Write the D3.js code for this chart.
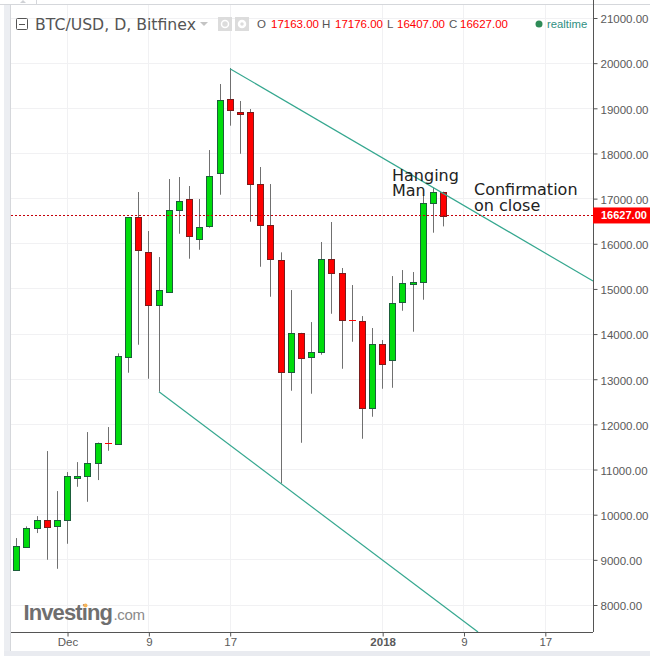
<!DOCTYPE html>
<html><head><meta charset="utf-8">
<script src="https://cdn.jsdelivr.net/npm/d3@7"></script>
<style>html,body{margin:0;padding:0;background:#fff;overflow:hidden}svg{display:block}</style>
</head><body><svg id="c" width="650" height="656"></svg>
<script>
const days=["Nov 26","Nov 27","Nov 28","Nov 29","Nov 30","Dec 1","Dec 2","Dec 3","Dec 4","Dec 5","Dec 6","Dec 7","Dec 8","Dec 9","Dec 10","Dec 11","Dec 12","Dec 13","Dec 14","Dec 15","Dec 16","Dec 17","Dec 18","Dec 19","Dec 20","Dec 21","Dec 22","Dec 23","Dec 24","Dec 25","Dec 26","Dec 27","Dec 28","Dec 29","Dec 30","Dec 31","Jan 1","Jan 2","Jan 3","Jan 4","Jan 5","Jan 6","Jan 7"];
const opens =[8789,9298,9719,9896,9763,9896,10840,10871,11159,11602,11571,13507,16608,15832,14658,14946,16763,17006,16120,16408,17573,19221,18945,18933,17339,16430,15655,13174,14038,13506,13617,15677,15367,14320,14304,12377,13795,13440,14725,15135,15168,16918,17163];
const highs =[9504,9763,9991,11431,10545,10966,11187,11852,11620,11963,13595,16608,17168,16304,15728,17456,17500,17301,17013,18098,19560,19915,19184,19006,17722,17345,15832,14997,14050,14288,16061,16504,15485,15108,14421,14156,13890,15307,15440,15396,17100,17263,17176];
const lows  =[8789,9298,9615,9024,8824,9378,10640,10308,10789,11438,11571,13166,13786,13033,12745,14946,16244,15691,15890,16377,17108,18637,18016,16510,15513,14849,10716,12767,11615,12701,13565,14472,13254,13852,11704,12191,12811,12833,14539,14074,14783,16267,16407];
const closes=[9320,9719,9896,9741,9896,10871,10885,11159,11602,11602,13529,16608,15868,14658,14991,16763,16962,16187,16386,17516,19199,18969,18895,17339,16430,15677,13174,14038,13484,13617,15677,15367,14326,14320,12377,13795,13352,14703,15146,15175,16918,17161,16627];
const priceTicks=[8000,9000,10000,11000,12000,13000,14000,15000,16000,17000,18000,19000,20000,21000];
const dateTicks=[5,13,21,36,44,52];
const dateLabels=["Dec","9","17","2018","9","17"];
const upperTrend=[{i:20.98,p:19900},{i:56.69,p:15197}];
const lowerTrend=[{i:14,p:12745},{i:45.38,p:7422}];
const lastClose=16627;

const L=11,R=593,B=632,T=5;
const svg=d3.select("#c");
const x=d3.scaleLinear().domain([-0.56,56.69]).range([L,R]);
const y=d3.scaleLinear().domain([21000,8000]).range([18,605]);
const snap=v=>Math.floor(v)+0.5;
const font="'Liberation Sans',Arial,sans-serif";

// frame
svg.append("rect").attr("x",4).attr("y",4).attr("width",7).attr("height",652).attr("fill","#eceef2");
svg.append("rect").attr("x",0).attr("y",4).attr("width",650).attr("height",1).attr("fill","#d5d7db");
svg.append("rect").attr("x",4).attr("y",651).attr("width",646).attr("height",5).attr("fill","#e9ebf0");
svg.append("rect").attr("x",10).attr("y",4).attr("width",1).attr("height",647).attr("fill","#d5d7db");
svg.append("path").attr("d",d3.line()([[20,3],[26,3],[23,0]])+"Z").attr("fill","#d0d2d6");
svg.append("line").attr("x1",36.5).attr("x2",36.5).attr("y1",0).attr("y2",4).attr("stroke","#d5d7db");

// grid
const grid=svg.append("g").attr("stroke","#f1f1f3").attr("stroke-width",1);
grid.selectAll("line.h").data(priceTicks).join("line").attr("class","h")
 .attr("x1",L).attr("x2",R).attr("y1",d=>snap(y(d))).attr("y2",d=>snap(y(d)));
grid.selectAll("line.v").data(dateTicks).join("line").attr("class","v")
 .attr("y1",T).attr("y2",B).attr("x1",d=>snap(x(d))).attr("x2",d=>snap(x(d)));

// logo
const logo=svg.append("g").attr("font-family",font);
logo.append("text").attr("x",23.5).attr("y",620).attr("font-size",22).attr("font-weight",700).attr("fill","#6f6f6f").attr("letter-spacing",-0.9).text("Investing");
logo.append("text").attr("x",113.5).attr("y",620).attr("font-size",15).attr("fill","#8a8a8a").attr("letter-spacing",-0.3).text(".com");
logo.append("circle").attr("cx",85.5).attr("cy",605.5).attr("r",2).attr("fill","#f5b55a");

// candles and trend lines sit one pixel below the grid rows
const marks=svg.append("g").attr("transform","translate(0,1)");
const idx=d3.range(days.length);
const c=marks.append("g");
c.selectAll("line.w").data(idx).join("line").attr("class","w")
 .attr("x1",i=>snap(x(i))).attr("x2",i=>snap(x(i)))
 .attr("y1",i=>y(highs[i])).attr("y2",i=>y(lows[i]))
 .attr("stroke","#707070").attr("stroke-width",1);
c.selectAll("rect").data(idx.filter(i=>opens[i]!==closes[i])).join("rect")
 .attr("x",i=>snap(x(i))-3).attr("width",6)
 .attr("y",i=>Math.round(y(Math.max(opens[i],closes[i])))+0.5)
 .attr("height",i=>Math.max(1,Math.round(Math.abs(y(opens[i])-y(closes[i])))))
 .attr("fill",i=>closes[i]>opens[i]?"#00dc0c":"#ff0000")
 .attr("stroke",i=>closes[i]>opens[i]?"#1b5e3a":"#7a1c1c").attr("stroke-width",1);
c.selectAll("line.d").data(idx.filter(i=>opens[i]===closes[i])).join("line").attr("class","d")
 .attr("x1",i=>snap(x(i))-3.5).attr("x2",i=>snap(x(i))+3.5)
 .attr("y1",i=>snap(y(closes[i]))).attr("y2",i=>snap(y(closes[i])))
 .attr("stroke","#ff0000").attr("stroke-width",1);

// trend lines
const tl=d3.line().x(d=>x(d.i)).y(d=>y(d.p));
[upperTrend,lowerTrend].forEach(t=>marks.append("path").attr("d",tl(t)).attr("fill","none").attr("stroke","#35a78f").attr("stroke-width",1.2));

// last price line
svg.append("line").attr("x1",L).attr("x2",R).attr("y1",snap(y(lastClose))).attr("y2",snap(y(lastClose)))
 .attr("stroke","#c4000a").attr("stroke-width",1).attr("stroke-dasharray","2 2");

// axes
const ay=svg.append("g").attr("transform",`translate(${R+0.5},0)`)
 .call(d3.axisRight(y).tickValues(priceTicks).tickFormat(d3.format(".2f")).tickSize(4).tickPadding(3));
const ax=svg.append("g").attr("transform",`translate(0,${B+0.5})`)
 .call(d3.axisBottom(x).tickValues(dateTicks).tickFormat((d,i)=>dateLabels[i]).tickSize(4).tickPadding(1.5));
[ay,ax].forEach(a=>{a.select(".domain").attr("stroke","#555");a.selectAll(".tick line").attr("stroke","#555");
 a.selectAll("text").attr("fill","#5a5a5a").attr("font-size",11.5).attr("font-family",font);});
ay.selectAll(".tick text").attr("dy","0.42em");
ay.select(".domain").attr("d",`M0,0V${B}`);
ax.select(".domain").attr("d",`M${L},0H${R}`);
ax.selectAll(".tick text").attr("font-weight",(d,i)=>dateLabels[i]==="2018"?700:400);

// price tag
svg.append("rect").attr("x",R).attr("y",y(lastClose)-8).attr("width",57).attr("height",16).attr("fill","#ff0000");
svg.append("text").attr("x",601).attr("y",y(lastClose)+4).attr("fill","#fff").attr("font-size",11).attr("font-weight",700).attr("font-family",font).text(d3.format(".2f")(lastClose));

// annotations
const ann=svg.append("g").attr("font-family","'DejaVu Sans',sans-serif").attr("font-size",16).attr("fill","#222");
[["Hanging",392,181],["Man",392,196],["Confirmation",474,195],["on close",474,211]].forEach(a=>ann.append("text").attr("x",a[1]).attr("y",a[2]).text(a[0]));

// header
svg.append("rect").attr("x",16.5).attr("y",18.5).attr("width",11).attr("height",11).attr("rx",1).attr("fill","#fff").attr("stroke","#555");
svg.append("line").attr("x1",19).attr("x2",25).attr("y1",24.5).attr("y2",24.5).attr("stroke","#555");
svg.append("text").attr("x",35).attr("y",30).attr("font-family","'DejaVu Sans',sans-serif").attr("font-size",15.7).attr("fill","#555").text("BTC/USD, D, Bitfinex");
svg.append("path").attr("d",d3.line()([[200,22],[208,22],[204,26]])+"Z").attr("fill","#c4c4c4");
svg.append("rect").attr("x",218).attr("y",17).attr("width",14).attr("height",14).attr("fill","#dcdcdc");
svg.append("circle").attr("cx",225).attr("cy",24).attr("r",3.5).attr("fill","none").attr("stroke","#fff").attr("stroke-width",1.5);
svg.append("rect").attr("x",235).attr("y",17).attr("width",14).attr("height",14).attr("fill","#dcdcdc");
svg.append("circle").attr("cx",242).attr("cy",24).attr("r",3).attr("fill","none").attr("stroke","#fff").attr("stroke-width",2.5);
const ohlcFont={size:11.5};
[["O",257,"#555"],["17163.00",271,"#f00"],["H",322,"#555"],["17176.00",335,"#f00"],["L",387,"#555"],["16407.00",397,"#f00"],["C",449,"#555"],["16627.00",460,"#f00"]]
 .forEach(t=>svg.append("text").attr("x",t[1]).attr("y",28).attr("font-family",font).attr("font-size",ohlcFont.size).attr("fill",t[2]).text(t[0]));
svg.append("circle").attr("cx",539).attr("cy",24).attr("r",3.5).attr("fill","#2e8b57");
svg.append("text").attr("x",547).attr("y",28).attr("font-family",font).attr("font-size",11.3).attr("fill","#2f8f7f").text("realtime");
</script></body></html>
